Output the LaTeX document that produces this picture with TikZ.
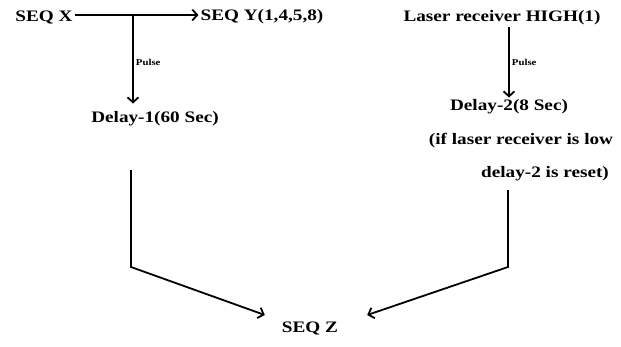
\documentclass[tikz,border=0pt]{standalone}
\usepackage{fontspec}
\setmainfont{Liberation Serif}[FakeStretch=1.2]
\usetikzlibrary{arrows.meta,calc}
\tikzset{
  state/.style={font=\bfseries\fontsize{16}{18}\selectfont, inner sep=2pt},
  pulse/.style={font=\bfseries\fontsize{9}{10}\selectfont, inner sep=2pt},
  flow/.style={-{Straight Barb[length=5pt,width=11pt]}, line width=1.8pt},
}

\begin{document}
\begin{tikzpicture}[x=1pt,y=1pt]
    \useasboundingbox[fill=white] (0,0) rectangle (621,-346);
    % left branch
    \node[state] (seqx) at (44,-17) {SEQ X};
    \node[state] (seqy) at (262,-17) {SEQ Y(1,4,5,8)};
    \node[state] (delay1) at (155,-119) {Delay-1(60 Sec)};
    \coordinate (tap) at (133,-15);
    \draw[flow] (seqx.east |- tap) -- (seqy.west |- tap);
    \draw[flow,shorten >=6pt] (tap) -- node[pulse,right]{Pulse} (tap |- delay1.north);
    % right branch
    \node[state] (laser) at (502,-18) {Laser receiver HIGH(1)};
    \node[state] (delay2) at (509,-107) {Delay-2(8 Sec)};
    \node[state] (note1) at (521,-141) {(if laser receiver is low};
    \node[state] (note2) at (545,-174) {delay-2 is reset)};
    \draw[flow] (delay2.north |- laser.south) -- node[pulse,right]{Pulse} (delay2.north);
    % merge
    \node[state] (seqz) at (310,-328) {SEQ Z};
    \coordinate (footL) at (131,-170);
    \coordinate (kneeL) at (131,-267);
    \coordinate (footR) at (508,-190);
    \coordinate (kneeR) at (508,-267);
    \draw[flow] (footL) -- (kneeL) -- ($(seqz.west)+(-15,13)$);
    \draw[flow] (footR) -- (kneeR) -- ($(seqz.east)+(27,13)$);
\end{tikzpicture}
\end{document}
